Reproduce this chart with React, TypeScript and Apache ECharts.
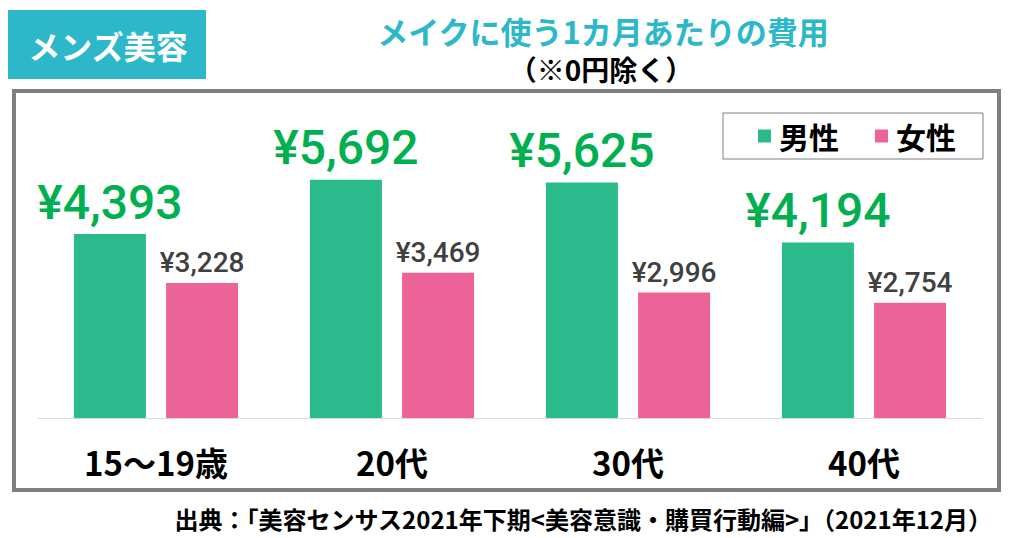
import React, { useEffect, useRef } from "react";
import * as echarts from "echarts";

const categories = ["15～19歳", "20代", "30代", "40代"];
const maleValues = [4393, 5692, 5625, 4194];
const femaleValues = [3228, 3469, 2996, 2754];
const seriesNames = ["男性", "女性"];
const badgeText = "メンズ美容";
const titleText = "メイクに使う1カ月あたりの費用";
const subtitleText = "（※0円除く）";
const sourceText = "出典：「美容センサス2021年下期<美容意識・購買行動編>」（2021年12月）";

const JP = "'Noto Sans CJK JP', 'Noto Sans', sans-serif";
const NUM = "Roboto, 'Noto Sans', sans-serif";

const yen = (v: number) => "¥" + v.toLocaleString("en-US");

export default function App() {
  const ref = useRef<HTMLDivElement>(null);
  useEffect(() => {
    document.body.style.margin = "0";
    const chart = echarts.init(ref.current!, undefined, { renderer: "svg" });
    chart.setOption({
      animation: false,
      backgroundColor: "#ffffff",
      grid: { left: 38, right: 42, top: 125, bottom: 120 },
      legend: {
        data: seriesNames,
        left: 723,
        top: 113,
        orient: "horizontal",
        icon: "rect",
        itemWidth: 13,
        itemHeight: 13,
        itemGap: 36,
        padding: [8, 27, 8, 35],
        borderColor: "#7f7f7f",
        borderWidth: 1,
        backgroundColor: "#ffffff",
        textStyle: { fontSize: 30, fontWeight: "bold", color: "#000", fontFamily: JP, padding: [0, 0, 0, 3] },
      },
      xAxis: {
        type: "category",
        data: categories,
        axisLine: { show: true, lineStyle: { color: "#d9d9d9", width: 1 } },
        axisTick: { show: false },
        axisLabel: {
          margin: 27,
          fontSize: 33,
          fontWeight: "bold",
          color: "#000",
          fontFamily: JP,
        },
      },
      yAxis: {
        type: "value",
        min: 0,
        max: 7000,
        show: false,
        splitLine: { show: false },
      },
      series: [
        {
          name: seriesNames[0],
          type: "bar",
          data: maleValues,
          barWidth: 72,
          barGap: "28%",
          itemStyle: { color: "#2aba8c" },
          label: {
            show: true,
            position: "top",
            distance: 8,
            formatter: (p: any) => yen(p.value),
            fontSize: 48,
            fontWeight: 500,
            color: "#00b050",
            fontFamily: NUM,
          },
        },
        {
          name: seriesNames[1],
          type: "bar",
          data: femaleValues,
          barWidth: 72,
          itemStyle: { color: "#ec6497" },
          label: {
            show: true,
            position: "top",
            distance: 6,
            formatter: (p: any) => yen(p.value),
            fontSize: 28,
            fontWeight: 500,
            color: "#404040",
            fontFamily: NUM,
          },
        },
      ],
      graphic: [
        {
          type: "rect",
          shape: { x: 14, y: 91, width: 985, height: 399 },
          style: { fill: "none", stroke: "#7f7f7f", lineWidth: 4 },
          z: -1,
        },
        {
          type: "rect",
          shape: { x: 8, y: 10, width: 198, height: 69 },
          style: { fill: "#2db8c9" },
        },
        {
          type: "text",
          x: 108,
          y: 45,
          style: {
            text: badgeText,
            fill: "#ffffff",
            font: `bold 32px ${JP}`,
            align: "center",
            verticalAlign: "middle",
          },
        },
        {
          type: "text",
          x: 603,
          y: 30,
          style: {
            text: titleText,
            fill: "#2db8c9",
            font: `bold 31px ${JP}`,
            align: "center",
            verticalAlign: "middle",
          },
        },
        {
          type: "text",
          x: 601,
          y: 69,
          style: {
            text: subtitleText,
            fill: "#000000",
            font: `bold 28px ${JP}`,
            align: "center",
            verticalAlign: "middle",
          },
        },
        {
          type: "text",
          x: 992,
          y: 518,
          style: {
            text: sourceText,
            fill: "#000000",
            font: `bold 24px ${JP}`,
            align: "right",
            verticalAlign: "middle",
          },
        },
      ],
    });
    return () => chart.dispose();
  }, []);
  return (
    <div
      ref={ref}
      style={{ position: "absolute", left: 0, top: 0, width: 1024, height: 538 }}
    />
  );
}
